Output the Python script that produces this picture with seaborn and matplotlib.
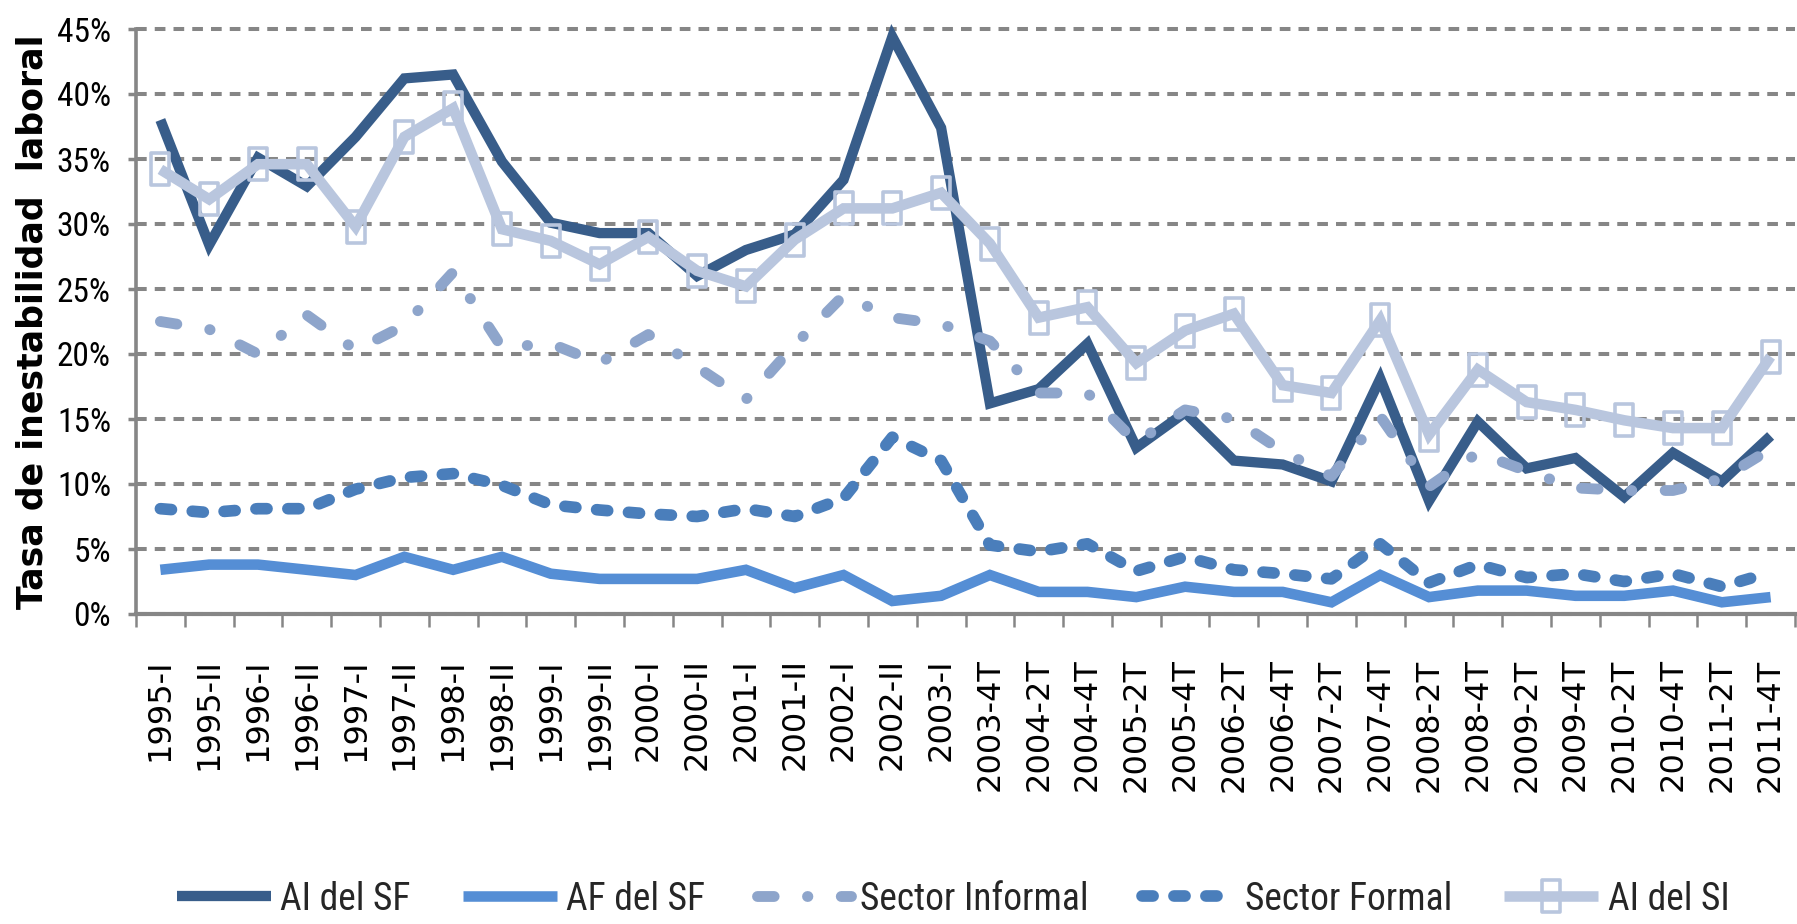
import numpy as np
import pandas as pd
import matplotlib
matplotlib.use("Agg")
import matplotlib.pyplot as plt
from matplotlib import font_manager
from matplotlib.path import Path
from matplotlib.ticker import FuncFormatter, FixedLocator
import seaborn as sns

# ---------------- data ----------------
periods = ["1995-I", "1995-II", "1996-I", "1996-II", "1997-I", "1997-II", "1998-I", "1998-II",
           "1999-I", "1999-II", "2000-I", "2000-II", "2001-I", "2001-II", "2002-I", "2002-II",
           "2003-I", "2003-4T", "2004-2T", "2004-4T", "2005-2T", "2005-4T", "2006-2T", "2006-4T",
           "2007-2T", "2007-4T", "2008-2T", "2008-4T", "2009-2T", "2009-4T", "2010-2T", "2010-4T",
           "2011-2T", "2011-4T"]

ai_sf = [38.0, 28.4, 35.1, 32.9, 36.7, 41.2, 41.5, 34.8, 30.1, 29.3, 29.3, 26.0, 28.0, 29.2, 33.4, 44.4,
         37.4, 16.2, 17.3, 20.8, 12.8, 15.5, 11.8, 11.5, 10.2, 18.1, 8.7, 14.8, 11.2, 12.0, 9.0, 12.4,
         10.2, 13.7]
af_sf = [3.4, 3.8, 3.8, 3.4, 3.0, 4.4, 3.4, 4.4, 3.1, 2.7, 2.7, 2.7, 3.4, 2.0, 3.0, 1.0,
         1.4, 3.0, 1.7, 1.7, 1.3, 2.1, 1.7, 1.7, 0.9, 3.0, 1.3, 1.8, 1.8, 1.4, 1.4, 1.8,
         0.9, 1.3]
sector_informal = [22.5, 21.9, 20.0, 23.0, 20.3, 22.2, 26.3, 20.5, 20.8, 19.3, 21.5, 19.0, 16.5, 20.7, 24.5, 22.8,
                   22.3, 21.0, 17.0, 17.0, 13.2, 15.7, 15.0, 12.5, 10.6, 15.2, 9.8, 12.4, 11.0, 9.7, 9.5, 9.5,
                   10.4, 12.7]
sector_formal = [8.1, 7.8, 8.1, 8.1, 9.6, 10.5, 10.8, 9.9, 8.4, 8.0, 7.7, 7.5, 8.1, 7.5, 8.9, 13.6,
                 11.8, 5.3, 4.8, 5.4, 3.3, 4.4, 3.4, 3.1, 2.7, 5.4, 2.4, 3.8, 2.8, 3.1, 2.5, 3.1,
                 2.1, 3.2]
ai_si = [34.2, 31.9, 34.6, 34.6, 29.8, 36.7, 38.9, 29.6, 28.7, 26.9, 29.0, 26.4, 25.2, 28.8, 31.2, 31.2,
         32.4, 28.5, 22.8, 23.6, 19.3, 21.8, 23.1, 17.6, 17.0, 22.6, 13.8, 18.8, 16.3, 15.7, 14.9, 14.3,
         14.3, 19.8]

series_names = ["AI del SF", "AF del SF", "Sector Informal", "Sector Formal", "AI del SI"]
series_values = [ai_sf, af_sf, sector_informal, sector_formal, ai_si]
y_ticks = [0, 5, 10, 15, 20, 25, 30, 35, 40, 45]
y_label = "Tasa de inestabilidad  laboral"

# ---------------- style ----------------
sns.set_theme(style="white")
names = {f.name for f in font_manager.fontManager.ttflist}
narrow = next((n for n in ["Liberation Sans Narrow", "DejaVu Sans Condensed", "Roboto Condensed",
                           "Open Sans Condensed", "Liberation Sans"] if n in names), "DejaVu Sans")
plt.rcParams["font.family"] = ["DejaVu Sans"]
plt.rcParams["lines.scale_dashes"] = False

GRAY = "#868686"
styles = {
    "AI del SF":       dict(color="#385d8a", lw=7.4, dashes=None, marker=None),
    "AF del SF":       dict(color="#558ed5", lw=7.6, dashes=None, marker=None),
    "Sector Informal": dict(color="#8ea5cb", lw=7.8, dashes=(12.0, 24.0, 0.3, 24.0), marker=None),
    "Sector Formal":   dict(color="#4a7ebb", lw=8.4, dashes=(8.0, 15.0), marker=None),
    "AI del SI":       dict(color="#b9c6de", lw=7.6, dashes=None, marker="rect"),
}

rect = Path([(-0.29, -0.5), (0.29, -0.5), (0.29, 0.5), (-0.29, 0.5), (-0.29, -0.5)],
            [Path.MOVETO, Path.LINETO, Path.LINETO, Path.LINETO, Path.CLOSEPOLY])

fig = plt.figure(figsize=(17.97, 9.24), dpi=100)
fig.subplots_adjust(left=136 / 1797, right=1795 / 1797, top=1 - 29 / 924, bottom=1 - 614 / 924)
ax = fig.add_subplot(111)

pos = np.arange(len(periods))
for name, vals in zip(series_names, series_values):
    df = pd.DataFrame({"pos": pos, "value": vals})
    st = styles[name]
    kw = {}
    if st["marker"] == "rect":
        kw = dict(marker=rect, markersize=23, markerfacecolor="none",
                  markeredgecolor=st["color"], markeredgewidth=2.6)
    sns.lineplot(data=df, x="pos", y="value", ax=ax, color=st["color"], linewidth=st["lw"],
                 errorbar=None, sort=False, label=name, legend=False, **kw)
    ln = ax.lines[-1]
    ln.set_solid_joinstyle("miter")
    ln.set_solid_capstyle("butt")
    if st["dashes"] is not None:
        ln.set_dashes(st["dashes"])
        ln.set_dash_capstyle("round")
        ln.set_dash_joinstyle("round")
    ln.set_clip_on(False)

# axes
ax.set_xlim(-0.5, len(periods) - 0.5)
ax.set_ylim(0, 45)
ax.set_xlabel("")
ax.set_ylabel(y_label, fontsize=25, fontweight="bold", color="black")
ax.yaxis.set_label_coords(-0.052, 0.50)

ax.set_xticks(pos)
ax.set_xticklabels(periods, rotation=90, fontsize=23, color="black")
ax.set_xticks(np.arange(-0.5, len(periods), 1.0), minor=True)
ax.tick_params(axis="x", which="major", length=0, pad=32)
ax.tick_params(axis="x", which="minor", length=9.5, width=1.8, color=GRAY, direction="out", bottom=True)

ax.yaxis.set_major_locator(FixedLocator(y_ticks))
ax.yaxis.set_major_formatter(FuncFormatter(lambda v, p: f"{v:.0f}%"))
ax.tick_params(axis="y", which="major", length=6, width=2.5, color=GRAY, direction="out", left=True, pad=12)
for lab in ax.get_yticklabels():
    lab.set_fontfamily(narrow)
    lab.set_fontsize(24)
    lab.set_color("black")

ax.grid(False)
ax.yaxis.grid(True, color=GRAY, linewidth=2.9, linestyle=(0, (7.7, 5.8)))
for gl in ax.get_ygridlines():
    gl.set_clip_on(False)
ax.set_axisbelow(True)

for s in ["top", "right"]:
    ax.spines[s].set_visible(False)
for s in ["left", "bottom"]:
    ax.spines[s].set_color(GRAY)
ax.spines["left"].set_linewidth(2.6)
ax.spines["bottom"].set_linewidth(3.0)

handles = ax.get_lines()[:len(series_names)]
leg = fig.legend(handles, series_names, loc="center", bbox_to_anchor=(953 / 1797, 1 - 899 / 924),
                 ncol=5, frameon=False, handlelength=2.5, handletextpad=0.25, columnspacing=1.4,
                 prop=font_manager.FontProperties(family=narrow, size=27))

fig.savefig("out.png", dpi=100)
